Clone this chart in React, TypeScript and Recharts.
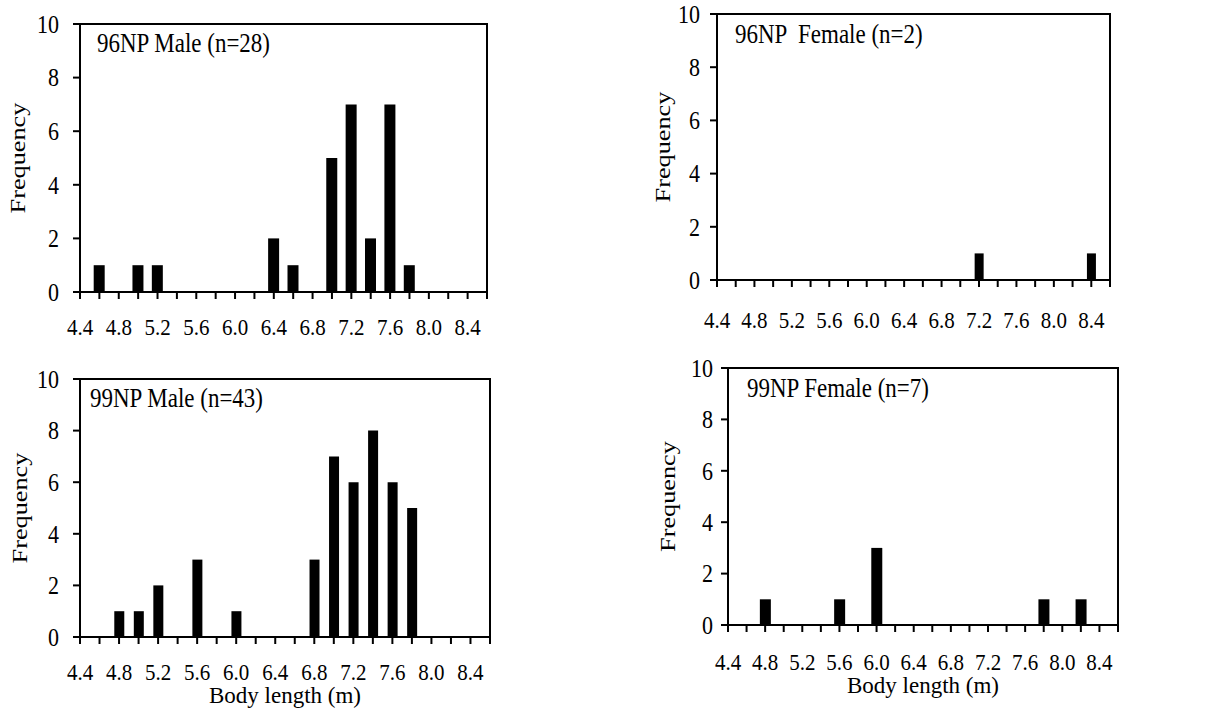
import { BarChart, Bar, XAxis, YAxis, ReferenceArea } from "recharts";

const FONT = '"Liberation Serif", "Times New Roman", serif';

// body length bins (m)
const bins = [4.4, 4.6, 4.8, 5.0, 5.2, 5.4, 5.6, 5.8, 6.0, 6.2, 6.4, 6.6, 6.8, 7.0, 7.2, 7.4, 7.6, 7.8, 8.0, 8.2, 8.4];

const male96 = [0, 1, 0, 1, 1, 0, 0, 0, 0, 0, 2, 1, 0, 5, 7, 2, 7, 1, 0, 0, 0];
const female96 = [0, 0, 0, 0, 0, 0, 0, 0, 0, 0, 0, 0, 0, 0, 1, 0, 0, 0, 0, 0, 1];
const male99 = [0, 0, 1, 1, 2, 0, 3, 0, 1, 0, 0, 0, 3, 7, 6, 8, 6, 5, 0, 0, 0];
const female99 = [0, 0, 1, 0, 0, 0, 1, 0, 3, 0, 0, 0, 0, 0, 0, 0, 0, 1, 0, 1, 0];

const xTicks = [4.4, 4.6, 4.8, 5.0, 5.2, 5.4, 5.6, 5.8, 6.0, 6.2, 6.4, 6.6, 6.8, 7.0, 7.2, 7.4, 7.6, 7.8, 8.0, 8.2, 8.4, 8.6];
const xTickLabels = ["4.4", "4.8", "5.2", "5.6", "6.0", "6.4", "6.8", "7.2", "7.6", "8.0", "8.4"];
const yTicks = [0, 2, 4, 6, 8, 10];

type PanelProps = {
  values: number[];
  title: string;
  left: number;
  top: number;
  width: number;
  height: number;
  margin: { top: number; right: number; bottom: number; left: number };
  xAxisHeight: number;
  xTickMargin: number;
  yTickMargin: number;
  freqOffset: number;
  titleDx: number;
  titleDy: number;
  barSize: number;
  xLabelOffset?: number;
};

// the scanned original has tall, narrow lettering, so text is stretched a bit
const XTick = (props: any) => {
  const s = Number(props.payload?.value).toFixed(1);
  if (!xTickLabels.includes(s)) return <g />;
  return (
    <text
      transform={`translate(${props.x} ${props.y}) scale(1 1.12)`}
      dy="0.71em"
      textAnchor="middle"
      fill="#000"
      fontSize={21}
      fontFamily={FONT}
    >
      {s}
    </text>
  );
};

const YTick = (props: any) => (
  <text
    transform={`translate(${props.x} ${props.y}) scale(1 1.1)`}
    dy="0.36em"
    textAnchor="end"
    fill="#000"
    fontSize={22}
    fontFamily={FONT}
  >
    {props.payload?.value}
  </text>
);

function Panel(p: PanelProps) {
  const data = bins.map((b, i) => ({ len: b, freq: p.values[i] }));

  return (
    <div style={{ position: "absolute", left: p.left, top: p.top }}>
      <BarChart width={p.width} height={p.height} data={data} margin={p.margin}>
        <XAxis
          dataKey="len"
          type="number"
          domain={[4.4, 8.6]}
          ticks={xTicks}
          interval={0}
          height={p.xAxisHeight}
          tickSize={7}
          tickMargin={p.xTickMargin}
          tick={<XTick />}
          axisLine={{ stroke: "#000", strokeWidth: 2 }}
          tickLine={{ stroke: "#000", strokeWidth: 2 }}
          label={
            p.xLabelOffset !== undefined
              ? {
                  content: (props: any) => {
                    const vb = props.viewBox || { x: 0, y: 0, width: 0, height: 0 };
                    return (
                      <text
                        x={vb.x + vb.width / 2}
                        y={vb.y + vb.height - (p.xLabelOffset as number)}
                        textAnchor="middle"
                        fill="#000"
                        fontSize={23}
                        fontFamily={FONT}
                      >
                        Body length (m)
                      </text>
                    );
                  },
                }
              : undefined
          }
        />
        <YAxis
          type="number"
          domain={[0, 10]}
          ticks={yTicks}
          interval={0}
          width={80}
          tickSize={7}
          tickMargin={p.yTickMargin}
          tick={<YTick />}
          axisLine={{ stroke: "#000", strokeWidth: 2 }}
          tickLine={{ stroke: "#000", strokeWidth: 2 }}
          label={{
            content: (props: any) => {
              const vb = props.viewBox || { x: 0, y: 0, width: 0, height: 0 };
              const cx = vb.x + p.freqOffset;
              const cy = vb.y + vb.height / 2;
              return (
                <text
                  transform={`translate(${cx} ${cy}) rotate(-90) scale(1.25 1)`}
                  dy="0.3em"
                  textAnchor="middle"
                  fill="#000"
                  fontSize={21}
                  fontFamily={FONT}
                >
                  Frequency
                </text>
              );
            },
          }}
        />
        <ReferenceArea
          x1={4.4}
          x2={8.6}
          y1={0}
          y2={10}
          fill="none"
          fillOpacity={0}
          stroke="#000"
          strokeWidth={2}
          label={{
            content: (props: any) => {
              const vb = props.viewBox || { x: 0, y: 0 };
              return (
                <text
                  transform={`translate(${vb.x + p.titleDx} ${vb.y + p.titleDy}) scale(1 1.18)`}
                  fill="#000"
                  fontSize={23}
                  fontFamily={FONT}
                  style={{ whiteSpace: "pre" }}
                >
                  {p.title}
                </text>
              );
            },
          }}
        />
        <Bar dataKey="freq" fill="#000" barSize={p.barSize} isAnimationActive={false} />
      </BarChart>
    </div>
  );
}

export default function App() {
  return (
    <div
      style={{
        position: "absolute",
        left: 0,
        top: 0,
        width: 1219,
        height: 717,
        background: "#fff",
        fontFamily: FONT,
      }}
    >
      <Panel
        values={male96}
        title="96NP Male (n=28)"
        left={0}
        top={0}
        width={500}
        height={345}
        margin={{ top: 24, right: 13, bottom: 13, left: 0 }}
        xAxisHeight={40}
        xTickMargin={19}
        yTickMargin={14}
        freqOffset={19}
        titleDx={17}
        titleDy={28}
        barSize={11}
      />
      <Panel
        values={female96}
        title="96NP  Female (n=2)"
        left={637}
        top={0}
        width={490}
        height={335}
        margin={{ top: 14, right: 17, bottom: 15, left: 0 }}
        xAxisHeight={40}
        xTickMargin={24}
        yTickMargin={10}
        freqOffset={27}
        titleDx={18}
        titleDy={29}
        barSize={9}
      />
      <Panel
        values={male99}
        title="99NP Male (n=43)"
        left={0}
        top={360}
        width={505}
        height={357}
        margin={{ top: 19, right: 15, bottom: 0, left: 0 }}
        xAxisHeight={80}
        xTickMargin={19}
        yTickMargin={14}
        freqOffset={21}
        titleDx={10}
        titleDy={28}
        barSize={10}
        xLabelOffset={14}
      />
      <Panel
        values={female99}
        title="99NP Female (n=7)"
        left={648}
        top={350}
        width={485}
        height={355}
        margin={{ top: 18, right: 15, bottom: 0, left: 0 }}
        xAxisHeight={80}
        xTickMargin={21}
        yTickMargin={8}
        freqOffset={21}
        titleDx={19}
        titleDy={29}
        barSize={11}
        xLabelOffset={12}
      />
    </div>
  );
}
